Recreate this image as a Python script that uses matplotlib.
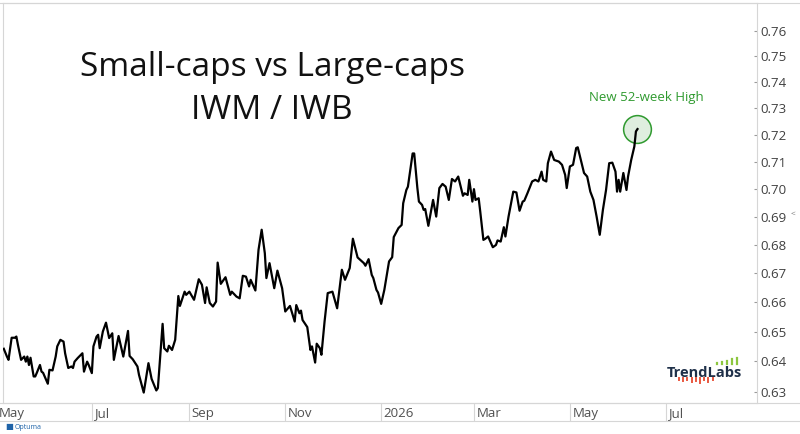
#!/usr/bin/env python3
"""
Small-caps vs Large-caps ratio chart (IWM / IWB), Optuma style.
Log price scale on the right, month separators on the bottom.
"""

import pandas as pd
import matplotlib.pyplot as plt
from matplotlib.lines import Line2D
from matplotlib.ticker import FixedLocator, NullLocator, FormatStrFormatter
import matplotlib.transforms as mtransforms

plt.rcParams["font.family"] = ["Open Sans", "DejaVu Sans"]

# ratio
dates = [
    "2025-05-06", "2025-05-08", "2025-05-09", "2025-05-11", "2025-05-13", "2025-05-14",
    "2025-05-15", "2025-05-17", "2025-05-19", "2025-05-20", "2025-05-21", "2025-05-22",
    "2025-05-23", "2025-05-25", "2025-05-26", "2025-05-27", "2025-05-29", "2025-05-30",
    "2025-05-31", "2025-06-01", "2025-06-03", "2025-06-04", "2025-06-06", "2025-06-08",
    "2025-06-09", "2025-06-11", "2025-06-13", "2025-06-14", "2025-06-16", "2025-06-18",
    "2025-06-19", "2025-06-20", "2025-06-22", "2025-06-25", "2025-06-26", "2025-06-28",
    "2025-06-29", "2025-07-01", "2025-07-02", "2025-07-04", "2025-07-05", "2025-07-06",
    "2025-07-08", "2025-07-10", "2025-07-12", "2025-07-14", "2025-07-15", "2025-07-18",
    "2025-07-21", "2025-07-24", "2025-07-25", "2025-07-27", "2025-07-30", "2025-07-31",
    "2025-08-03", "2025-08-06", "2025-08-08", "2025-08-11", "2025-08-12", "2025-08-15",
    "2025-08-16", "2025-08-18", "2025-08-19", "2025-08-21", "2025-08-23", "2025-08-25",
    "2025-08-26", "2025-08-29", "2025-08-30", "2025-09-01", "2025-09-04", "2025-09-07",
    "2025-09-09", "2025-09-11", "2025-09-12", "2025-09-14", "2025-09-16", "2025-09-18",
    "2025-09-19", "2025-09-21", "2025-09-24", "2025-09-27", "2025-09-28", "2025-10-01",
    "2025-10-03", "2025-10-05", "2025-10-07", "2025-10-09", "2025-10-10", "2025-10-13",
    "2025-10-15", "2025-10-17", "2025-10-19", "2025-10-20", "2025-10-22", "2025-10-23",
    "2025-10-25", "2025-10-27", "2025-10-30", "2025-11-01", "2025-11-04", "2025-11-07",
    "2025-11-08", "2025-11-10", "2025-11-11", "2025-11-12", "2025-11-15", "2025-11-17",
    "2025-11-18", "2025-11-20", "2025-11-21", "2025-11-23", "2025-11-24", "2025-11-26",
    "2025-11-28", "2025-12-01", "2025-12-04", "2025-12-07", "2025-12-09", "2025-12-12",
    "2025-12-14", "2025-12-17", "2025-12-21", "2025-12-22", "2025-12-24", "2025-12-26",
    "2025-12-27", "2025-12-29", "2025-12-30", "2026-01-01", "2026-01-03", "2026-01-06",
    "2026-01-08", "2026-01-09", "2026-01-12", "2026-01-14", "2026-01-15", "2026-01-17",
    "2026-01-18", "2026-01-20", "2026-01-21", "2026-01-22", "2026-01-24", "2026-01-25",
    "2026-01-27", "2026-01-28", "2026-01-29", "2026-01-31", "2026-02-03", "2026-02-05",
    "2026-02-07", "2026-02-09", "2026-02-11", "2026-02-13", "2026-02-15", "2026-02-17",
    "2026-02-19", "2026-02-22", "2026-02-23", "2026-02-25", "2026-02-26", "2026-02-28",
    "2026-03-01", "2026-03-02", "2026-03-04", "2026-03-05", "2026-03-07", "2026-03-08",
    "2026-03-10", "2026-03-13", "2026-03-15", "2026-03-16", "2026-03-18", "2026-03-20",
    "2026-03-21", "2026-03-23", "2026-03-25", "2026-03-26", "2026-03-28", "2026-03-30",
    "2026-04-01", "2026-04-02", "2026-04-04", "2026-04-07", "2026-04-09", "2026-04-11",
    "2026-04-13", "2026-04-14", "2026-04-16", "2026-04-17", "2026-04-19", "2026-04-21",
    "2026-04-24", "2026-04-26", "2026-04-28", "2026-04-29", "2026-05-01", "2026-05-03",
    "2026-05-05", "2026-05-06", "2026-05-08", "2026-05-10", "2026-05-12", "2026-05-14",
    "2026-05-16", "2026-05-18", "2026-05-20", "2026-05-22", "2026-05-24", "2026-05-26",
    "2026-05-28", "2026-05-30", "2026-05-31", "2026-06-01", "2026-06-02", "2026-06-04",
    "2026-06-06", "2026-06-07", "2026-06-09", "2026-06-11", "2026-06-12", "2026-06-13",
]
ratio = [
    0.6442, 0.6416, 0.6405, 0.6479, 0.6479, 0.6483,
    0.6455, 0.6405, 0.6416, 0.6399, 0.6416, 0.6388,
    0.6412, 0.6350, 0.6350, 0.6362, 0.6388, 0.6366,
    0.6362, 0.6350, 0.6326, 0.6372, 0.6370, 0.6416,
    0.6450, 0.6472, 0.6466, 0.6427, 0.6378, 0.6383,
    0.6378, 0.6399, 0.6411, 0.6427, 0.6366, 0.6399,
    0.6388, 0.6361, 0.6450, 0.6483, 0.6489, 0.6444,
    0.6500, 0.6530, 0.6478, 0.6494, 0.6405, 0.6485,
    0.6416, 0.6502, 0.6418, 0.6407, 0.6383, 0.6355,
    0.6297, 0.6394, 0.6342, 0.6304, 0.6312, 0.6526,
    0.6444, 0.6433, 0.6452, 0.6438, 0.6472, 0.6621,
    0.6587, 0.6636, 0.6625, 0.6636, 0.6608, 0.6679,
    0.6660, 0.6597, 0.6651, 0.6597, 0.6585, 0.6602,
    0.6737, 0.6663, 0.6686, 0.6625, 0.6636, 0.6619,
    0.6613, 0.6691, 0.6688, 0.6654, 0.6677, 0.6640,
    0.6782, 0.6853, 0.6770, 0.6683, 0.6735, 0.6706,
    0.6648, 0.6709, 0.6648, 0.6568, 0.6587, 0.6534,
    0.6590, 0.6562, 0.6571, 0.6539, 0.6515, 0.6438,
    0.6450, 0.6396, 0.6459, 0.6444, 0.6422, 0.6534,
    0.6631, 0.6636, 0.6579, 0.6712, 0.6677, 0.6718,
    0.6821, 0.6755, 0.6735, 0.6726, 0.6749, 0.6694,
    0.6683, 0.6642, 0.6633, 0.6594, 0.6642, 0.6741,
    0.6756, 0.6827, 0.6859, 0.6870, 0.6948, 0.6996,
    0.7008, 0.7088, 0.7130, 0.7130, 0.7004, 0.6954,
    0.6942, 0.6924, 0.6927, 0.6867, 0.6960, 0.6900,
    0.7003, 0.7018, 0.7008, 0.6960, 0.7036, 0.7027,
    0.7045, 0.6975, 0.6984, 0.6978, 0.7033, 0.6954,
    0.6999, 0.6960, 0.6966, 0.6918, 0.6817, 0.6820,
    0.6829, 0.6791, 0.6799, 0.6815, 0.6811, 0.6862,
    0.6829, 0.6900, 0.6960, 0.6990, 0.6987, 0.6921,
    0.6954, 0.6957, 0.6984, 0.7027, 0.7033, 0.7027,
    0.7063, 0.7033, 0.7027, 0.7094, 0.7137, 0.7106,
    0.7100, 0.7088, 0.7051, 0.7003, 0.7082, 0.7088,
    0.7150, 0.7153, 0.7106, 0.7058, 0.7045, 0.6990,
    0.6960, 0.6900, 0.6835, 0.6924, 0.6996, 0.7094,
    0.7096, 0.7063, 0.6990, 0.7033, 0.6990, 0.7058,
    0.6996, 0.7045, 0.7106, 0.7156, 0.7212, 0.7221,
]

month_ticks = ["2025-05-01", "2025-07-01", "2025-09-01", "2025-11-01",
               "2026-01-01", "2026-03-01", "2026-05-01", "2026-07-01"]
month_labels = ["May", "Jul", "Sep", "Nov", "2026", "Mar", "May", "Jul"]
y_ticks = [0.63, 0.64, 0.65, 0.66, 0.67, 0.68, 0.69, 0.70,
           0.71, 0.72, 0.73, 0.74, 0.75, 0.76]

title_1 = "Small-caps vs Large-caps"
title_2 = "IWM / IWB"
note = "New 52-week High"

GRID = "#d6d6d6"
GREEN = "#2f9a2f"


def main():
    x = pd.to_datetime(dates)
    ticks = pd.to_datetime(month_ticks)

    fig = plt.figure(figsize=(8, 4.34), dpi=100)
    ax = fig.add_axes([0.00375, 0.0714, 0.9425, 0.9224])

    ax.plot(x, ratio, color="black", linewidth=1.6, zorder=3)

    # highlight the last close
    ax.plot(x[-1:], ratio[-1:], marker="o", markersize=20, markerfacecolor="#dfeedf",
            markeredgecolor=GREEN, markeredgewidth=1.1, linestyle="none", zorder=2)
    ax.annotate(note, (x[-1], ratio[-1]), xytext=(6.5, 18), textcoords="offset points",
                ha="center", va="bottom", fontsize=9.5, color=GREEN)

    # log price scale on the right
    ax.set_yscale("log")
    ax.set_ylim(0.6263, 0.7711)
    ax.set_xlim(pd.Timestamp("2025-05-05 12:00"), pd.Timestamp("2026-08-28"))
    ax.yaxis.tick_right()
    ax.yaxis.set_major_locator(FixedLocator(y_ticks))
    ax.yaxis.set_minor_locator(NullLocator())
    ax.yaxis.set_major_formatter(FormatStrFormatter("%.2f"))
    ax.tick_params(axis="y", direction="in", length=2.5, width=0.8, color="#9a9a9a",
                   pad=2.5, labelsize=9.5, labelcolor="#404040")

    # month separators below the plot, labels sit to the right of each one
    ax.set_xticks(ticks[1:])
    ax.set_xticklabels([])
    ax.xaxis.set_minor_locator(NullLocator())
    ax.tick_params(axis="x", direction="out", length=13, width=0.8, color=GRID)
    off = mtransforms.offset_copy(ax.get_xaxis_transform(), fig=fig, x=2.5, units="dots")
    for t, lab in zip(ticks, month_labels):
        ax.text(t, -0.036, lab, transform=off, ha="left", va="baseline",
                fontsize=9.5, color="#505050", clip_on=False)

    for side in ("left", "right", "bottom", "top"):
        ax.spines[side].set_color(GRID)
        ax.spines[side].set_linewidth(0.8)

    # frame lines that run across the whole image
    for yf in (1 - 403 / 434, 1 - 421 / 434, 1 - 2.7 / 434):
        fig.add_artist(Line2D([0, 1], [yf, yf], color=GRID, linewidth=0.8))

    fig.text(0.34, 1 - 76 / 434, title_1, ha="center", va="baseline",
             fontsize=24, color="#111111")
    fig.text(0.34, 1 - 119 / 434, title_2, ha="center", va="baseline",
             fontsize=24, color="#111111")

    # TrendLabs watermark
    fig.text(0.8336, 1 - 377 / 434, "TrendLabs", ha="left", va="baseline",
             fontsize=10.5, fontweight="bold", color="#1f3049")
    for i, h in enumerate([1.5, 2.5, 3.5, 5.0, 6.5]):
        xf = (717 + i * 5) / 800
        fig.add_artist(Line2D([xf, xf], [1 - 364 / 434, 1 - (364 - h) / 434],
                              color="#8cc63f", linewidth=1.6))
    for i, h in enumerate([1.5, 3, 2, 4, 2.5, 5, 2, 3.5, 1.5]):
        xf = (679 + i * 4.2) / 800
        fig.add_artist(Line2D([xf, xf], [1 - 378 / 434, 1 - (378 + h) / 434],
                              color="#e9573f", linewidth=1.4))

    # Optuma tag
    fig.text(0.006, 0.012, "\u25a0", fontsize=6, color="#1f63a8", va="baseline")
    fig.text(0.018, 0.012, "Optuma", fontsize=5, color="#1f63a8", va="baseline")
    fig.text(0.991, 1 - 216 / 434, "<", fontsize=6, color="#777777", ha="center")

    fig.savefig("out.png", dpi=100)


if __name__ == "__main__":
    main()
